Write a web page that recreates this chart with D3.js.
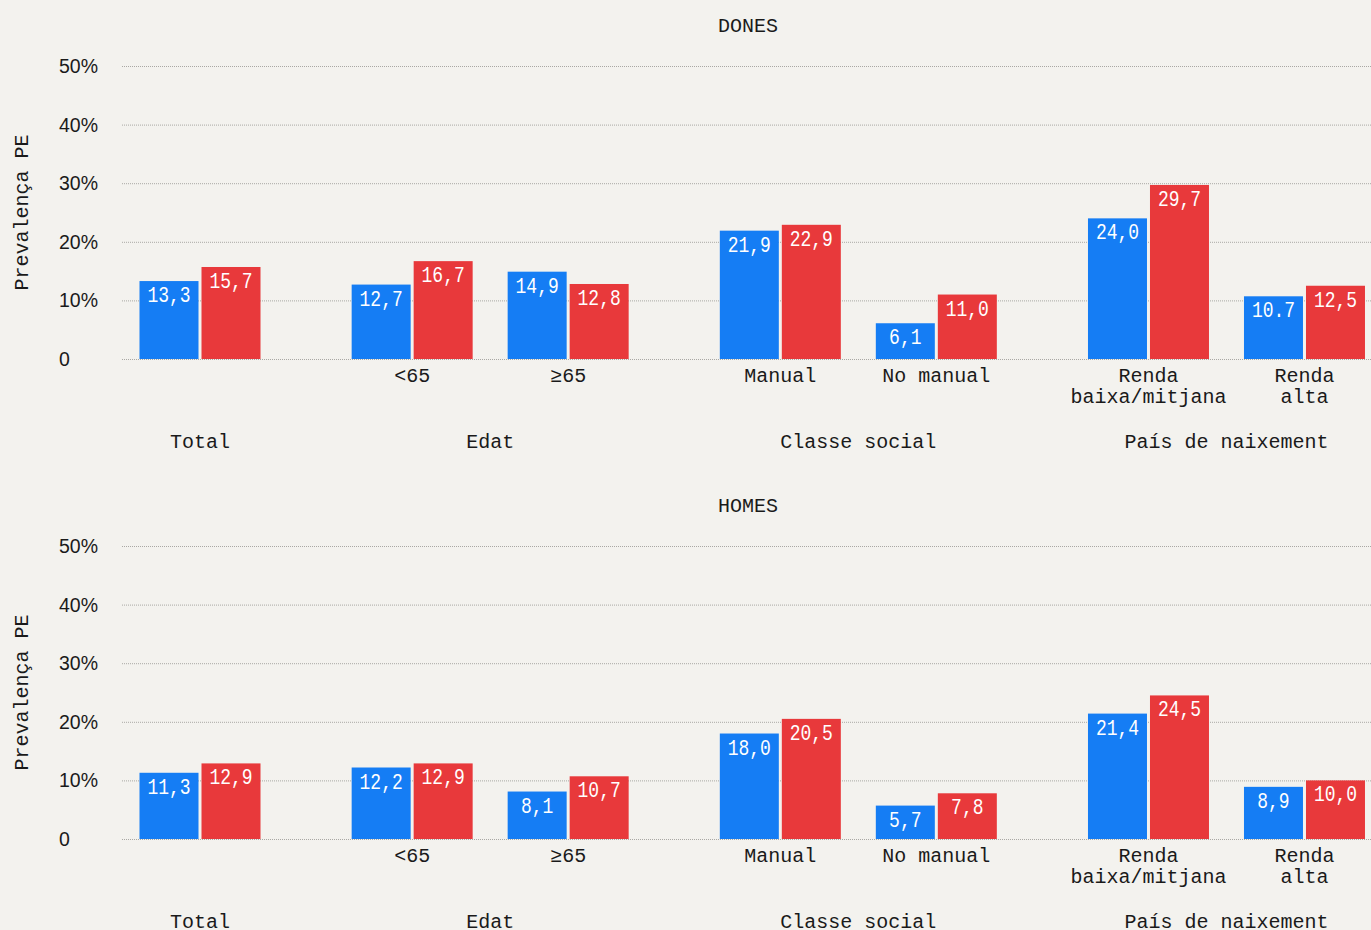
<!DOCTYPE html>
<html>
<head>
<meta charset="utf-8">
<script src="https://cdn.jsdelivr.net/npm/d3@7"></script>
<style>
  html, body { margin: 0; padding: 0; background: #f3f2ee; }
  svg { display: block; }
  .mono { font-family: "Liberation Mono", "DejaVu Sans Mono", monospace; }
  .sans { font-family: "Liberation Sans", Arial, sans-serif; }
</style>
</head>
<body>
<svg id="chart" width="1371" height="930"></svg>
<script>
// Categories (line breaks with "\n") and the section each one belongs to
const categories = ["", "<65", "≥65", "Manual", "No manual", "Renda\nbaixa/mitjana", "Renda\nalta"];
const sectionOfCategory = [0, 1, 1, 2, 2, 3, 3];
const sections = ["Total", "Edat", "Classe social", "País de naixement"];

// Printed prevalence values (%), two series per panel
const donesBlue = ["13,3", "12,7", "14,9", "21,9", "6,1", "24,0", "10.7"];
const donesRed  = ["15,7", "16,7", "12,8", "22,9", "11,0", "29,7", "12,5"];
const homesBlue = ["11,3", "12,2", "8,1", "18,0", "5,7", "21,4", "8,9"];
const homesRed  = ["12,9", "12,9", "10,7", "20,5", "7,8", "24,5", "10,0"];

const yTicks = [0, 10, 20, 30, 40, 50];
const yTickLabels = ["0", "10%", "20%", "30%", "40%", "50%"];
const panelTitles = ["DONES", "HOMES"];
const yAxisTitle = "Prevalença PE";

const toNum = s => parseFloat(s.replace(",", "."));

const colors = { blue: "#157df4", red: "#e8393b", grid: "#a9a8a4", text: "#1a1a1a" };

const svg = d3.select("#chart");
const W = 1371;
const sectionGap = 0.36;         // extra space between sections, in slot units
const slotPx = 156;
const left = 122;

// slot position: category index plus accumulated section gaps
const slotPos = i => i + sectionOfCategory[i] * sectionGap;
const nSlots = categories.length;
const x = d3.scaleLinear()
  .domain([-0.5, slotPos(nSlots - 1) + 0.5])
  .range([left, left + slotPx * (slotPos(nSlots - 1) + 1)]);

const barW = 59, barGap = 3;

function drawPanel(offsetY, title, blueVals, redVals) {
  const g = svg.append("g").attr("transform", `translate(0,${offsetY})`);
  const y = d3.scaleLinear().domain([0, 50]).range([359, 66]);

  // title
  g.append("text").attr("class", "mono")
    .attr("x", 748).attr("y", 32)
    .attr("text-anchor", "middle")
    .attr("font-size", 20).attr("fill", colors.text)
    .text(title);

  // y axis title
  g.append("text").attr("class", "mono")
    .attr("transform", `translate(28,${(y(0) + y(50)) / 2}) rotate(-90)`)
    .attr("text-anchor", "middle")
    .attr("font-size", 20).attr("fill", colors.text)
    .text(yAxisTitle);

  // gridlines and tick labels
  const yAxis = d3.axisLeft(y).tickValues(yTicks)
    .tickSize(-(W - left))
    .tickFormat((d, i) => yTickLabels[i]);
  const ax = g.append("g").attr("transform", `translate(${left},0)`).call(yAxis);
  ax.select(".domain").remove();
  ax.selectAll(".tick line")
    .attr("stroke", colors.grid).attr("stroke-width", 1)
    .attr("stroke-dasharray", "1,1");
  ax.selectAll(".tick text")
    .attr("class", "sans")
    .attr("x", 59 - left).attr("dy", "0.33em")
    .attr("text-anchor", "start")
    .attr("font-size", 19.5).attr("fill", colors.text);

  const series = [
    { vals: blueVals, color: colors.blue, dx: -barGap / 2 - barW },
    { vals: redVals, color: colors.red, dx: barGap / 2 }
  ];

  series.forEach(s => {
    const data = s.vals.map((label, i) => ({ i, label, v: toNum(label) }));
    g.append("g").selectAll("rect").data(data).join("rect")
      .attr("x", d => x(slotPos(d.i)) + s.dx)
      .attr("y", d => y(d.v))
      .attr("width", barW)
      .attr("height", d => y(0) - y(d.v))
      .attr("fill", s.color);
    // value labels: tall, narrow figures
    g.append("g").selectAll("text").data(data).join("text")
      .attr("class", "mono")
      .attr("x", d => x(slotPos(d.i)) + s.dx + barW / 2)
      .attr("y", d => y(d.v) + 21)
      .attr("text-anchor", "middle")
      .attr("font-size", 22).attr("fill", "#ffffff")
      .attr("textLength", d => d.label.length * 10.8)
      .attr("lengthAdjust", "spacingAndGlyphs")
      .text(d => d.label);
  });

  // category labels
  const cat = g.append("g").selectAll("text")
    .data(categories.map((c, i) => ({ c, i })))
    .join("text")
    .attr("class", "mono")
    .attr("text-anchor", "middle")
    .attr("font-size", 20).attr("fill", colors.text)
    .attr("transform", d => `translate(${x(slotPos(d.i))},382)`);
  cat.selectAll("tspan").data(d => d.c.split("\n")).join("tspan")
    .attr("x", 0).attr("y", (d, k) => k * 21)
    .text(d => d);

  // section labels centered under their categories
  sections.forEach((name, s) => {
    const idx = d3.range(nSlots).filter(i => sectionOfCategory[i] === s);
    const cx = d3.mean(idx, i => x(slotPos(i)));
    g.append("text").attr("class", "mono")
      .attr("x", cx).attr("y", 448)
      .attr("text-anchor", "middle")
      .attr("font-size", 20).attr("fill", colors.text)
      .text(name);
  });
}

drawPanel(0, panelTitles[0], donesBlue, donesRed);
drawPanel(480, panelTitles[1], homesBlue, homesRed);
</script>
</body>
</html>
